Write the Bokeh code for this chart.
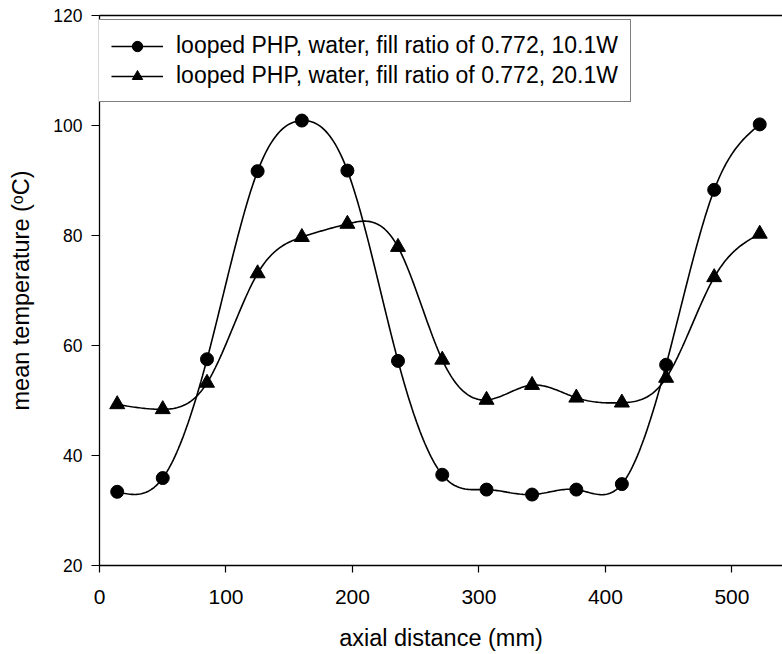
import numpy as np
from bokeh.plotting import figure
from bokeh.models import Range1d, LinearAxis, Legend, LegendItem, FixedTicker
from bokeh.embed import file_html
from bokeh.resources import INLINE

# ---- data ----
axial_mm = [14, 50, 85, 125, 160, 196, 236, 271, 306, 342, 377, 413, 448, 486, 522]
temp_10W = [33.4, 35.9, 57.5, 91.7, 100.9, 91.8, 57.2, 36.5, 33.8, 32.9, 33.8, 34.8, 56.5, 88.3, 100.2]
temp_20W = [49.3, 48.4, 53.2, 73.1, 79.7, 82.1, 77.9, 57.4, 50.1, 52.8, 50.5, 49.6, 54.1, 72.4, 80.3]
label_10W = "looped PHP, water, fill ratio of 0.772, 10.1W"
label_20W = "looped PHP, water, fill ratio of 0.772, 20.1W"
x_ticks = [0, 100, 200, 300, 400, 500]
y_ticks = [20, 40, 60, 80, 100, 120]


def natural_spline(x, y, n=400):
    """Smooth curve drawn through the data points (natural cubic spline)."""
    x = np.asarray(x, float)
    y = np.asarray(y, float)
    m = len(x)
    h = np.diff(x)
    A = np.zeros((m, m))
    b = np.zeros(m)
    A[0, 0] = 1.0
    A[-1, -1] = 1.0
    for i in range(1, m - 1):
        A[i, i - 1] = h[i - 1]
        A[i, i] = 2 * (h[i - 1] + h[i])
        A[i, i + 1] = h[i]
        b[i] = 6 * ((y[i + 1] - y[i]) / h[i] - (y[i] - y[i - 1]) / h[i - 1])
    M = np.linalg.solve(A, b)
    xs = np.linspace(x[0], x[-1], n)
    idx = np.clip(np.searchsorted(x, xs) - 1, 0, m - 2)
    x0, x1 = x[idx], x[idx + 1]
    y0, y1 = y[idx], y[idx + 1]
    M0, M1 = M[idx], M[idx + 1]
    hh = x1 - x0
    t1 = x1 - xs
    t0 = xs - x0
    ys = (M0 * t1 ** 3 + M1 * t0 ** 3) / (6 * hh) + (y0 / hh - M0 * hh / 6) * t1 + (y1 / hh - M1 * hh / 6) * t0
    return xs, ys


FONT = "Liberation Sans"

p = figure(width=782, height=654, output_backend="svg", toolbar_location=None,
           x_range=Range1d(0, 540), y_range=Range1d(20, 120),
           min_border_left=99, min_border_right=0, min_border_top=15, min_border_bottom=89,
           x_axis_label="axial distance (mm)", y_axis_label="mean temperature (\u1d52C)")
p.outline_line_color = None
p.grid.visible = False
p.background_fill_color = "white"
p.border_fill_color = "white"

for ax in (p.xaxis[0], p.yaxis[0]):
    ax.axis_line_color = "black"
    ax.axis_line_width = 1.3
    ax.major_tick_line_color = "black"
    ax.major_tick_line_width = 1.2
    ax.major_tick_in = 0
    ax.minor_tick_line_color = None
    ax.major_label_text_font = FONT
    ax.major_label_text_color = "black"
    ax.axis_label_text_font = FONT
    ax.axis_label_text_font_style = "normal"
    ax.axis_label_text_color = "black"
    ax.axis_label_text_font_size = "23.5px"

p.xaxis[0].ticker = FixedTicker(ticks=x_ticks)
p.yaxis[0].ticker = FixedTicker(ticks=y_ticks)
p.xaxis[0].major_tick_out = 7
p.yaxis[0].major_tick_out = 8
p.xaxis[0].major_label_text_font_size = "21px"
p.yaxis[0].major_label_text_font_size = "17.5px"
p.xaxis[0].major_label_standoff = 17
p.yaxis[0].major_label_standoff = 9
p.xaxis[0].axis_label_standoff = 18
p.yaxis[0].axis_label_standoff = 16

top_axis = LinearAxis(ticker=FixedTicker(ticks=[]), major_tick_in=0, major_tick_out=0,
                      minor_tick_in=0, minor_tick_out=0, major_label_text_font_size="0px",
                      axis_line_color="black", axis_line_width=1.3)
p.add_layout(top_axis, "above")

xs1, ys1 = natural_spline(axial_mm, temp_10W)
xs2, ys2 = natural_spline(axial_mm, temp_20W)

l1 = p.line(xs1, ys1, line_color="black", line_width=1.6)
s1 = p.scatter(axial_mm, temp_10W, marker="circle", size=13, fill_color="black", line_color="black")
l2 = p.line(xs2, ys2, line_color="black", line_width=1.6)
s2 = p.scatter(axial_mm, temp_20W, marker="triangle", size=15, fill_color="black", line_color="black")

legend = Legend(items=[LegendItem(label=label_10W, renderers=[l1, s1]),
                       LegendItem(label=label_20W, renderers=[l2, s2])],
                location=(-1, 463), margin=0, padding=12, spacing=3,
                glyph_width=52, glyph_height=26, label_height=26, label_standoff=13,
                label_text_font=FONT, label_text_font_size="23px", label_text_color="black",
                border_line_color="black", border_line_width=1.2,
                background_fill_color="white", background_fill_alpha=1.0)
p.add_layout(legend, "center")

open("out.html", "w").write(file_html(p, INLINE))
